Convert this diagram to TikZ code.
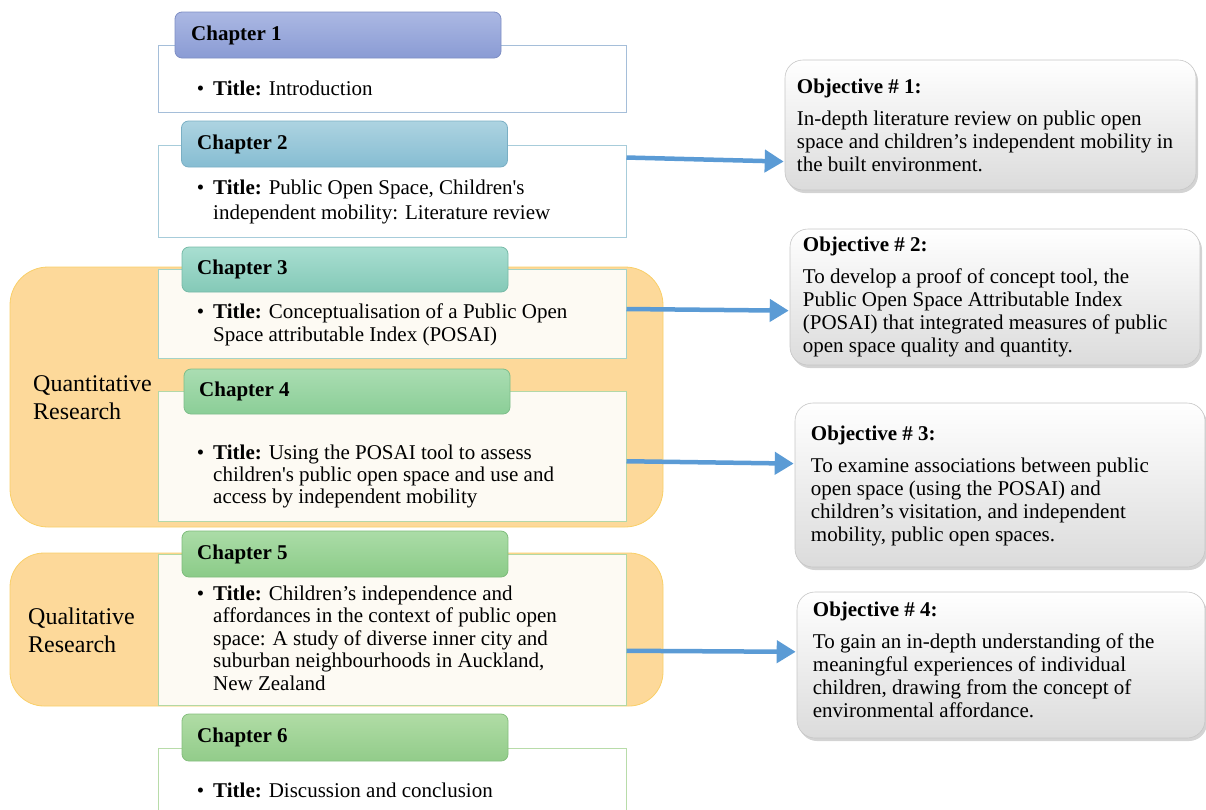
\documentclass[tikz,border=0pt]{standalone}
\usepackage{fontspec}
\setmainfont{Liberation Serif}
\usetikzlibrary{calc,shadows,arrows.meta}
\definecolor{orfill}{HTML}{FDD99A}
\definecolor{ordraw}{HTML}{F9CF68}
\definecolor{cream}{HTML}{FDFAF3}
\definecolor{arrblue}{HTML}{5B9BD5}
\definecolor{bd1}{HTML}{A5BED9}
\definecolor{bd2}{HTML}{A7CCDA}
\definecolor{bd3}{HTML}{A5D3C6}
\definecolor{bd4}{HTML}{B3D8A8}
\definecolor{bd5}{HTML}{B3D8A3}
\definecolor{bd6}{HTML}{B8DCA9}
\definecolor{ht1}{HTML}{ABB8E3}\definecolor{hb1}{HTML}{8A9BD4}\definecolor{hd1}{HTML}{7E8EC4}
\definecolor{ht2}{HTML}{ADD3E1}\definecolor{hb2}{HTML}{86BDD2}\definecolor{hd2}{HTML}{7AAFC4}
\definecolor{ht3}{HTML}{A8DED1}\definecolor{hb3}{HTML}{84C9B7}\definecolor{hd3}{HTML}{77BAA7}
\definecolor{ht4}{HTML}{AADDB2}\definecolor{hb4}{HTML}{8BCE97}\definecolor{hd4}{HTML}{7EBE8A}
\definecolor{ht5}{HTML}{ABDCA7}\definecolor{hb5}{HTML}{8BCB88}\definecolor{hd5}{HTML}{7EBC7B}
\definecolor{ht6}{HTML}{B0DCA5}\definecolor{hb6}{HTML}{92CC8A}\definecolor{hd6}{HTML}{84BE7D}
\tikzset{
  grp/.style={draw=ordraw, line width=0.8pt, fill=orfill, rounded corners=38pt},
  hdr/.style={draw=hd#1, line width=0.8pt, rounded corners=7pt, top color=ht#1, bottom color=hb#1,
     minimum width=326pt, minimum height=46pt, inner sep=0pt},
  body/.style={draw=bd#1, line width=1pt, minimum width=468pt, inner sep=0pt},
  hdrtxt/.style={anchor=west, inner sep=0pt, font=\fontsize{21}{23}\selectfont\bfseries},
  btxt/.style={anchor=west, inner sep=0pt, align=left, font=\fontsize{21}{23}\selectfont},
  grptxt/.style={anchor=west, inner sep=0pt, align=left, font=\fontsize{24}{28}\selectfont},
  objbox/.style={draw=gray!45, line width=0.6pt, rounded corners=18pt, top color=white, middle color=gray!6, bottom color=gray!28,
     drop shadow={shadow xshift=2pt, shadow yshift=-3pt, opacity=0.35, fill=gray}, inner sep=0pt},
  otxt/.style={anchor=west, inner sep=0pt, align=left, font=\fontsize{21}{23}\selectfont},
  arr/.style={draw=arrblue, line width=4.5pt, -{Triangle[length=19pt,width=22pt]}, shorten >=1pt},
}
\newcommand{\bul}{\makebox[0pt][r]{\textbullet\hspace{9pt}}}
\newcommand{\ttl}{\textbf{Title:} }
\newcommand{\sq}{\textquotesingle}
\begin{document}
\begin{tikzpicture}[x=1pt,y=-1pt]
\useasboundingbox (0,0) rectangle (1206,809);
% research groups
\draw[grp] (10,267) rectangle (663,527);
\draw[grp, rounded corners=34pt] (10,553) rectangle (663,706);
\node[grptxt] (quant) at (33,398) {Quantitative\\Research};
\node[grptxt] (qual) at (28,630) {Qualitative\\Research};
% bodies
\node[body=1, fill=white, minimum height=67pt] (b1) at (392,78.5) {};
\node[body=2, fill=white, minimum height=92pt] (b2) at (392,191) {};
\node[body=3, fill=cream, minimum height=89pt] (b3) at (392,313.5) {};
\node[body=4, fill=cream, minimum height=130pt] (b4) at (392,456) {};
\node[body=5, fill=cream, minimum height=151pt] (b5) at (392,629.5) {};
\node[body=6, fill=white, minimum height=67pt] (b6) at (392,781.5) {};
% headers
\node[hdr=1] (h1) at (338,35) {};
\node[hdr=2] (h2) at (344.5,144) {};
\node[hdr=3, minimum height=45pt] (h3) at (345,269.5) {};
\node[hdr=4, minimum height=45pt] (h4) at (347,391.5) {};
\node[hdr=5] (h5) at (345,554) {};
\node[hdr=6, minimum height=47pt] (h6) at (345,737.5) {};
\node[hdrtxt] (h1t) at (191,35) {Chapter 1};
\node[hdrtxt] (h2t) at (197,144) {Chapter 2};
\node[hdrtxt] (h3t) at (197,269.5) {Chapter 3};
\node[hdrtxt] (h4t) at (199,391.5) {Chapter 4};
\node[hdrtxt] (h5t) at (197,554) {Chapter 5};
\node[hdrtxt] (h6t) at (197,737.5) {Chapter 6};
% body texts
\node[btxt] (t1) at (213,88) {\bul\ttl Introduction};
\node[btxt, font=\fontsize{21}{25}\selectfont] (t2) at (213,201.5) {\bul\ttl Public Open Space, Children\sq s\\independent mobility: Literature review};
\node[btxt] (t3) at (213,324.5) {\bul\ttl Conceptualisation of a Public Open\\Space attributable Index (POSAI)};
\node[btxt, font=\fontsize{21}{22}\selectfont] (t4) at (213,476) {\bul\ttl Using the POSAI tool to assess\\children\sq s public open space and use and\\access by independent mobility};
\node[btxt, font=\fontsize{21}{22.5}\selectfont] (t5) at (213,638) {\bul\ttl Children’s independence and\\affordances in the context of public open\\space: A study of diverse inner city and\\suburban neighbourhoods in Auckland,\\New Zealand};
\node[btxt] (t6) at (213,790) {\bul\ttl Discussion and conclusion};
% objectives
\node[objbox, minimum width=411pt, minimum height=130pt] (o1) at (990.5,125) {};
\node[objbox, minimum width=410pt, minimum height=136pt] (o2) at (995,297) {};
\node[objbox, minimum width=410pt, minimum height=164pt] (o3) at (1000,485) {};
\node[objbox, minimum width=408pt, minimum height=146pt] (o4) at (1001,665) {};
\node[otxt] (o1t) at ($(o1.west)+(12,0)$) {\textbf{Objective \# 1:}\\[9pt]In-depth literature review on public open\\space and children’s independent mobility in\\the built environment.};
\node[otxt] (o2t) at ($(o2.west)+(13,0)$) {\textbf{Objective \# 2:}\\[9pt]To develop a proof of concept tool, the\\Public Open Space Attributable Index\\(POSAI) that integrated measures of public\\open space quality and quantity.};
\node[otxt] (o3t) at ($(o3.west)+(16,0.5)$) {\textbf{Objective \# 3:}\\[9pt]To examine associations between public\\open space (using the POSAI) and\\children’s visitation, and independent\\mobility, public open spaces.};
\node[otxt] (o4t) at ($(o4.west)+(16,-5.5)$) {\textbf{Objective \# 4:}\\[9pt]To gain an in-depth understanding of the\\meaningful experiences of individual\\children, drawing from the concept of\\environmental affordance.};
% arrows
\draw[arr] ($(b2.north east)!0.14!(b2.south east)$) -- ($(o1.north west)!0.78!(o1.south west)$);
\draw[arr] ($(b3.north east)!0.45!(b3.south east)$) -- ($(o2.north west)!0.6!(o2.south west)$);
\draw[arr] ($(b4.north east)!0.54!(b4.south east)$) -- ($(o3.north west)!0.37!(o3.south west)$);
\draw[arr] ($(b5.north east)!0.64!(b5.south east)$) -- ($(o4.north west)!0.41!(o4.south west)$);
\end{tikzpicture}
\end{document}
